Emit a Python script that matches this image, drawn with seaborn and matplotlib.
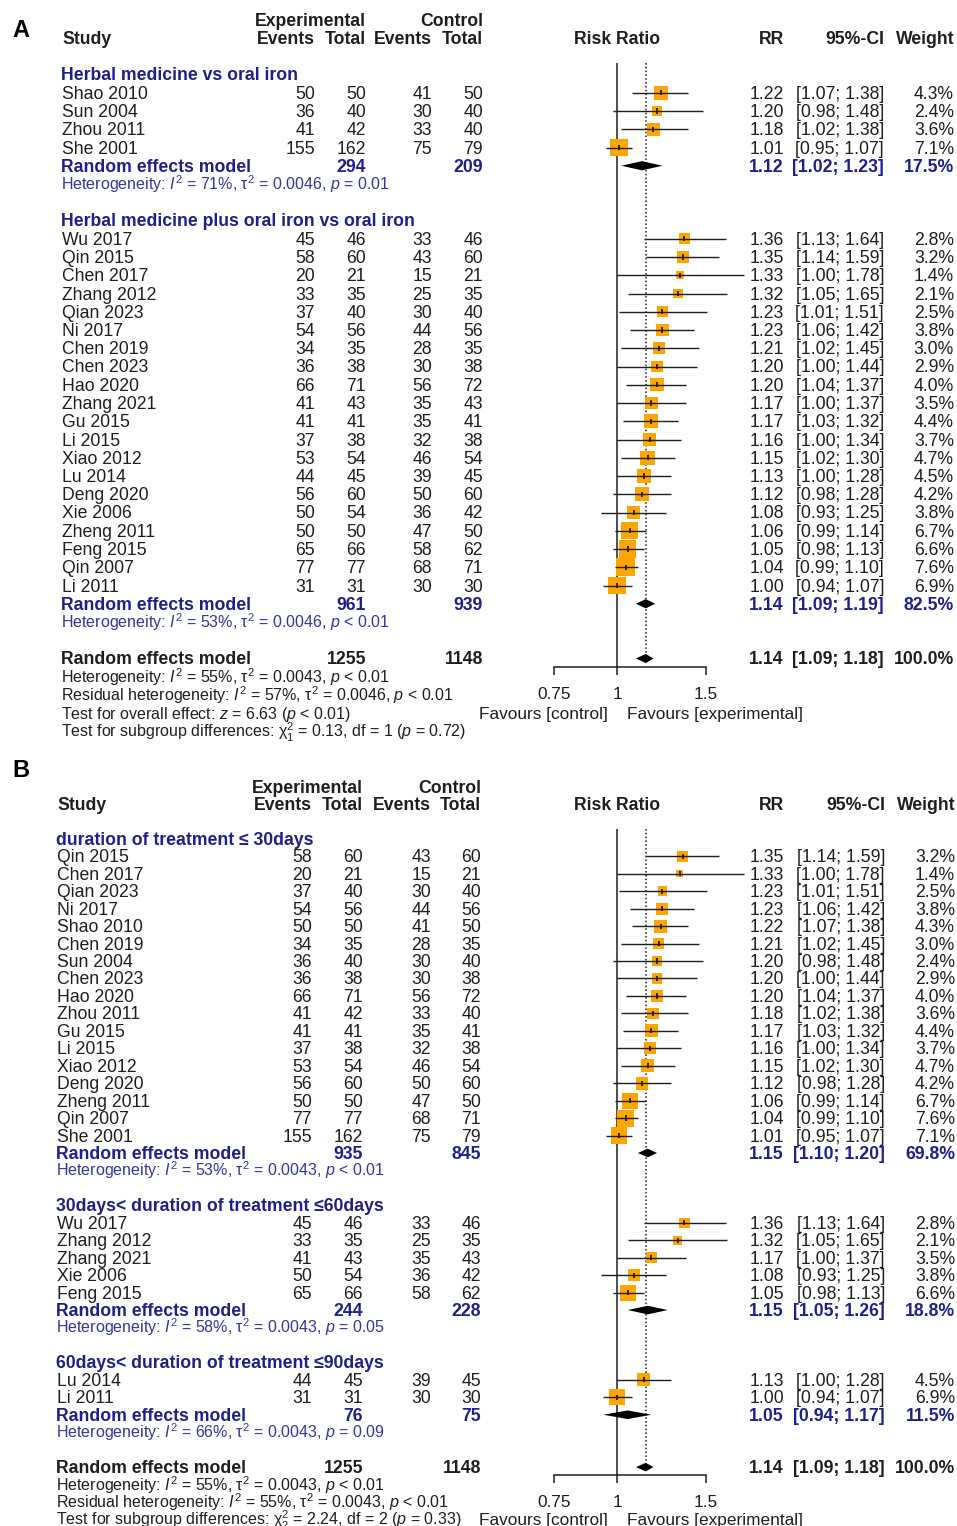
import numpy as np
import pandas as pd
import matplotlib
matplotlib.use("Agg")
import matplotlib.pyplot as plt
import seaborn as sns
from matplotlib.ticker import NullLocator, FixedLocator, FixedFormatter

sns.set_theme(style="white")
plt.rcParams["font.family"] = ["Liberation Sans", "DejaVu Sans"]
plt.rcParams["mathtext.fontset"] = "custom"
plt.rcParams["mathtext.rm"] = "Liberation Sans"
plt.rcParams["mathtext.it"] = "Liberation Sans:italic"
plt.rcParams["mathtext.bf"] = "Liberation Sans:bold"

# ---------------------------------------------------------------- study data
studies = ["Shao 2010", "Sun 2004", "Zhou 2011", "She 2001", "Wu 2017", "Qin 2015",
           "Chen 2017", "Zhang 2012", "Qian 2023", "Ni 2017", "Chen 2019", "Chen 2023",
           "Hao 2020", "Zhang 2021", "Gu 2015", "Li 2015", "Xiao 2012", "Lu 2014",
           "Deng 2020", "Xie 2006", "Zheng 2011", "Feng 2015", "Qin 2007", "Li 2011"]
exp_events = [50, 36, 41, 155, 45, 58, 20, 33, 37, 54, 34, 36, 66, 41, 41, 37, 53, 44, 56, 50, 50, 65, 77, 31]
exp_total = [50, 40, 42, 162, 46, 60, 21, 35, 40, 56, 35, 38, 71, 43, 41, 38, 54, 45, 60, 54, 50, 66, 77, 31]
ctrl_events = [41, 30, 33, 75, 33, 43, 15, 25, 30, 44, 28, 30, 56, 35, 35, 32, 46, 39, 50, 36, 47, 58, 68, 30]
ctrl_total = [50, 40, 40, 79, 46, 60, 21, 35, 40, 56, 35, 38, 72, 43, 41, 38, 54, 45, 60, 42, 50, 62, 71, 30]
rr = [1.22, 1.20, 1.18, 1.01, 1.36, 1.35, 1.33, 1.32, 1.23, 1.23, 1.21, 1.20,
      1.20, 1.17, 1.17, 1.16, 1.15, 1.13, 1.12, 1.08, 1.06, 1.05, 1.04, 1.00]
ci_low = [1.07, 0.98, 1.02, 0.95, 1.13, 1.14, 1.00, 1.05, 1.01, 1.06, 1.02, 1.00,
          1.04, 1.00, 1.03, 1.00, 1.02, 1.00, 0.98, 0.93, 0.99, 0.98, 0.99, 0.94]
ci_high = [1.38, 1.48, 1.38, 1.07, 1.64, 1.59, 1.78, 1.65, 1.51, 1.42, 1.45, 1.44,
           1.37, 1.37, 1.32, 1.34, 1.30, 1.28, 1.28, 1.25, 1.14, 1.13, 1.10, 1.07]
weight = [4.3, 2.4, 3.6, 7.1, 2.8, 3.2, 1.4, 2.1, 2.5, 3.8, 3.0, 2.9,
          4.0, 3.5, 4.4, 3.7, 4.7, 4.5, 4.2, 3.8, 6.7, 6.6, 7.6, 6.9]

# ---------------------------------------------------------------- panel A subgroups
titles_a = ["Herbal medicine vs oral iron", "Herbal medicine plus oral iron vs oral iron"]
members_a = [["Shao 2010", "Sun 2004", "Zhou 2011", "She 2001"],
             ["Wu 2017", "Qin 2015", "Chen 2017", "Zhang 2012", "Qian 2023", "Ni 2017",
              "Chen 2019", "Chen 2023", "Hao 2020", "Zhang 2021", "Gu 2015", "Li 2015",
              "Xiao 2012", "Lu 2014", "Deng 2020", "Xie 2006", "Zheng 2011", "Feng 2015",
              "Qin 2007", "Li 2011"]]
pooled_exp_a = [294, 961]
pooled_ctrl_a = [209, 939]
pooled_rr_a = [1.12, 1.14]
pooled_lo_a = [1.02, 1.09]
pooled_hi_a = [1.23, 1.19]
pooled_w_a = [17.5, 82.5]
het_i2_a = ["71%", "53%"]
het_tau_a = ["0.0046", "0.0046"]
het_p_a = ["= 0.01", "< 0.01"]
footer_a = [r"Heterogeneity: $I^2$ = 55%, $\mathrm{\tau}^2$ = 0.0043, $p$ < 0.01",
            r"Residual heterogeneity: $I^2$ = 57%, $\mathrm{\tau}^2$ = 0.0046, $p$ < 0.01",
            r"Test for overall effect: $z$ = 6.63 ($p$ < 0.01)",
            r"Test for subgroup differences: $\mathrm{\chi}^2_1$ = 0.13, df = 1 ($p$ = 0.72)"]

# ---------------------------------------------------------------- panel B subgroups
titles_b = ["duration of treatment \u2264 30days",
            "30days< duration of treatment \u226460days",
            "60days< duration of treatment \u226490days"]
members_b = [["Qin 2015", "Chen 2017", "Qian 2023", "Ni 2017", "Shao 2010", "Chen 2019",
              "Sun 2004", "Chen 2023", "Hao 2020", "Zhou 2011", "Gu 2015", "Li 2015",
              "Xiao 2012", "Deng 2020", "Zheng 2011", "Qin 2007", "She 2001"],
             ["Wu 2017", "Zhang 2012", "Zhang 2021", "Xie 2006", "Feng 2015"],
             ["Lu 2014", "Li 2011"]]
pooled_exp_b = [935, 244, 76]
pooled_ctrl_b = [845, 228, 75]
pooled_rr_b = [1.15, 1.15, 1.05]
pooled_lo_b = [1.10, 1.05, 0.94]
pooled_hi_b = [1.20, 1.26, 1.17]
pooled_w_b = [69.8, 18.8, 11.5]
het_i2_b = ["53%", "58%", "66%"]
het_tau_b = ["0.0043", "0.0043", "0.0043"]
het_p_b = ["< 0.01", "= 0.05", "= 0.09"]
footer_b = [r"Heterogeneity: $I^2$ = 55%, $\mathrm{\tau}^2$ = 0.0043, $p$ < 0.01",
            r"Residual heterogeneity: $I^2$ = 55%, $\mathrm{\tau}^2$ = 0.0043, $p$ < 0.01",
            r"Test for subgroup differences: $\mathrm{\chi}^2_2$ = 2.24, df = 2 ($p$ = 0.33)"]

# ---------------------------------------------------------------- overall estimate
overall_exp = 1255
overall_ctrl = 1148
overall_rr = 1.14
overall_lo = 1.09
overall_hi = 1.18
overall_w = 100.0

axis_ticks = [0.75, 1, 1.5]
axis_ticklabels = ["0.75", "1", "1.5"]

# ---------------------------------------------------------------- styling
W, H = 957, 1526
FS = 12.7          # table text
FS_SMALL = 11.5    # heterogeneity / test statistics
INK = "#1e1e1e"
NAVY = "#1f1f8a"
HETBLUE = "#35359c"
BOX = "#FFA500"
X_ONE = 617.0      # pixel column of RR = 1
LOG_PX = 219.5     # pixels per unit of ln(RR)
BASE = 6.0         # baseline offset below a row centre

fig = plt.figure(figsize=(W / 100, H / 100), dpi=100)
tx = fig.add_axes([0, 0, 1, 1])
tx.set_xlim(0, W)
tx.set_ylim(H, 0)
tx.axis("off")

idx = {s: i for i, s in enumerate(studies)}


def put(x, y, s, ha="left", bold=False, color=INK, size=FS):
    tx.text(x, y + BASE, s, ha=ha, va="baseline", fontsize=size,
            fontweight="bold" if bold else "normal", color=color)


def panel(letter, letter_y, y0, step, cols, titles, members, p_exp, p_ctrl, p_rr, p_lo, p_hi,
          p_w, i2, tau, pval, footer, box_k, dia_h, line_top):
    name_x, ev_e, to_e, ev_c, to_c, rr_x, ci_x, w_x = cols
    row = lambda r: y0 + r * step

    tx.text(12, letter_y, letter, fontsize=17, fontweight="bold", color="black", va="baseline")
    # column headers
    put(to_e, row(-1), "Experimental", ha="right", bold=True)
    put(to_c, row(-1), "Control", ha="right", bold=True)
    put(name_x, row(0), "Study", bold=True)
    for x, s in [(ev_e, "Events"), (to_e, "Total"), (ev_c, "Events"), (to_c, "Total"),
                 (rr_x, "RR"), (ci_x, "95%-CI"), (w_x, "Weight")]:
        put(x, row(0), s, ha="right", bold=True)
    put(X_ONE, row(0), "Risk Ratio", ha="center", bold=True)

    study_rows, study_ids = [], []
    pooled_rows = []
    r = 2
    for g, title in enumerate(titles):
        put(name_x - 1, row(r), title, bold=True, color=NAVY)
        for j, name in enumerate(members[g]):
            k = idx[name]
            yy = row(r + 1 + j)
            put(name_x, yy, name)
            put(ev_e, yy, f"{exp_events[k]}", ha="right")
            put(to_e, yy, f"{exp_total[k]}", ha="right")
            put(ev_c, yy, f"{ctrl_events[k]}", ha="right")
            put(to_c, yy, f"{ctrl_total[k]}", ha="right")
            put(rr_x, yy, f"{rr[k]:.2f}", ha="right")
            put(ci_x, yy, f"[{ci_low[k]:.2f}; {ci_high[k]:.2f}]", ha="right")
            put(w_x, yy, f"{weight[k]:.1f}%", ha="right")
            study_rows.append(yy)
            study_ids.append(k)
        r += len(members[g]) + 1
        yy = row(r)
        put(name_x - 1, yy, "Random effects model", bold=True, color=NAVY)
        put(to_e, yy, f"{p_exp[g]}", ha="right", bold=True, color=NAVY)
        put(to_c, yy, f"{p_ctrl[g]}", ha="right", bold=True, color=NAVY)
        put(rr_x, yy, f"{p_rr[g]:.2f}", ha="right", bold=True, color=NAVY)
        put(ci_x, yy, f"[{p_lo[g]:.2f}; {p_hi[g]:.2f}]", ha="right", bold=True, color=NAVY)
        put(w_x, yy, f"{p_w[g]:.1f}%", ha="right", bold=True, color=NAVY)
        pooled_rows.append((yy, p_rr[g], p_lo[g], p_hi[g]))
        put(name_x - 1, row(r + 1),
            rf"Heterogeneity: $I^2$ = {i2[g]}, $\mathrm{{\tau}}^2$ = {tau[g]}, $p$ {pval[g]}",
            color=HETBLUE, size=FS_SMALL)
        r += 3
    # overall model
    yo = row(r)
    put(name_x - 1, yo, "Random effects model", bold=True)
    put(to_e, yo, f"{overall_exp}", ha="right", bold=True)
    put(to_c, yo, f"{overall_ctrl}", ha="right", bold=True)
    put(rr_x, yo, f"{overall_rr:.2f}", ha="right", bold=True)
    put(ci_x, yo, f"[{overall_lo:.2f}; {overall_hi:.2f}]", ha="right", bold=True)
    put(w_x, yo, f"{overall_w:.1f}%", ha="right", bold=True)
    pooled_rows.append((yo, overall_rr, overall_lo, overall_hi))
    for i, s in enumerate(footer):
        put(name_x - 1, row(r + 1 + i), s, size=FS_SMALL)
    put(608, row(r + 3), "Favours [control]", ha="right", size=FS - 0.3)
    put(627, row(r + 3), "Favours [experimental]", size=FS - 0.3)

    # ---------------------------------------------------------- forest axes
    axis_y = yo + step * 0.45
    left_px, right_px, top_px = 470.0, 820.0, line_top - 10
    ax = fig.add_axes([left_px / W, 1 - axis_y / H, (right_px - left_px) / W,
                       (axis_y - top_px) / H])
    df = pd.DataFrame({"rr": [rr[k] for k in study_ids], "y": study_rows,
                       "w": [weight[k] for k in study_ids]})
    wmax = 10.0
    area_max = (box_k * np.sqrt(wmax) * 0.72) ** 2
    sns.scatterplot(data=df, x="rr", y="y", size="w", sizes=(0, area_max),
                    size_norm=(0, wmax), marker="s", color=BOX, linewidth=0,
                    legend=False, ax=ax, zorder=2)
    ax.hlines(df["y"], [ci_low[k] for k in study_ids], [ci_high[k] for k in study_ids],
              color=INK, lw=1.0, zorder=3)
    ax.vlines(df["rr"], df["y"] - 2.6, df["y"] + 2.6, color=INK, lw=1.3, zorder=3)
    for yy, est, lo, hi in pooled_rows:
        ax.fill([lo, est, hi, est], [yy, yy - dia_h, yy, yy + dia_h], color="black",
                lw=0, zorder=4)
    ax.vlines(1, line_top, axis_y, color=INK, lw=1.1, zorder=1)
    ax.vlines(overall_rr, line_top, yo - dia_h, color=INK, lw=1.1, ls=(0, (1, 1.5)), zorder=1)

    ax.set_xscale("log")
    ax.set_xlim(np.exp((left_px - X_ONE) / LOG_PX), np.exp((right_px - X_ONE) / LOG_PX))
    ax.set_ylim(axis_y, top_px)
    ax.set_xlabel("")
    ax.set_ylabel("")
    ax.patch.set_alpha(0)
    for s in ["top", "right", "left"]:
        ax.spines[s].set_visible(False)
    ax.spines["bottom"].set_bounds(axis_ticks[0], axis_ticks[-1])
    ax.spines["bottom"].set_color(INK)
    ax.spines["bottom"].set_linewidth(1.1)
    ax.xaxis.set_major_locator(FixedLocator(axis_ticks))
    ax.xaxis.set_major_formatter(FixedFormatter(axis_ticklabels))
    ax.xaxis.set_minor_locator(NullLocator())
    ax.set_yticks([])
    ax.tick_params(axis="x", bottom=True, direction="out", length=5.5, width=1.1,
                   color=INK, labelcolor=INK, labelsize=FS - 0.3, pad=9)
    ax.grid(False)


cols_a = (62, 315, 366, 432, 483, 784, 884, 954)
cols_b = (57, 312, 363, 431, 481, 784, 885, 955)

panel("A", 37, 38.0, 18.25, cols_a, titles_a, members_a, pooled_exp_a, pooled_ctrl_a,
      pooled_rr_a, pooled_lo_a, pooled_hi_a, pooled_w_a, het_i2_a, het_tau_a, het_p_a,
      footer_a, box_k=6.65, dia_h=4.6, line_top=63)
panel("B", 777, 804.0, 17.45, cols_b, titles_b, members_b, pooled_exp_b, pooled_ctrl_b,
      pooled_rr_b, pooled_lo_b, pooled_hi_b, pooled_w_b, het_i2_b, het_tau_b, het_p_b,
      footer_b, box_k=6.2, dia_h=4.3, line_top=829)

fig.savefig("out.png", dpi=100)
